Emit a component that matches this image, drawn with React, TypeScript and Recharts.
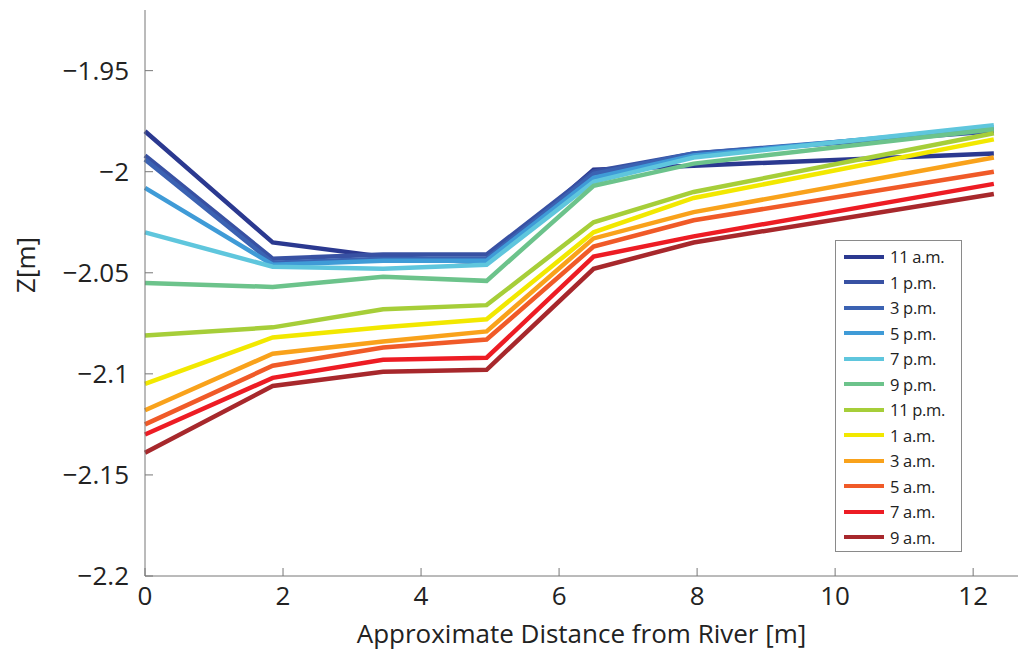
import { LineChart, Line, XAxis, YAxis } from 'recharts';

const distances = [0, 1.85, 3.45, 4.95, 6.5, 7.95, 12.3];

const times = ['11 a.m.', '1 p.m.', '3 p.m.', '5 p.m.', '7 p.m.', '9 p.m.', '11 p.m.', '1 a.m.', '3 a.m.', '5 a.m.', '7 a.m.', '9 a.m.'];

const colors = ['#2b3990', '#3851a3', '#3b62b2', '#3f9bd7', '#5fc6dd', '#6cc38b', '#a6ce39', '#f2e800', '#f9a21b', '#f05a28', '#ed1c24', '#a7282c'];

const z11am = [-1.980, -2.035, -2.042, -2.045, -1.999, -1.997, -1.991];
const z1pm = [-1.992, -2.043, -2.041, -2.041, -2.000, -1.991, -1.980];
const z3pm = [-1.994, -2.045, -2.043, -2.043, -2.001, -1.991, -1.979];
const z5pm = [-2.008, -2.046, -2.044, -2.044, -2.003, -1.992, -1.978];
const z7pm = [-2.030, -2.047, -2.048, -2.046, -2.005, -1.993, -1.977];
const z9pm = [-2.055, -2.057, -2.052, -2.054, -2.007, -1.996, -1.979];
const z11pm = [-2.081, -2.077, -2.068, -2.066, -2.025, -2.010, -1.981];
const z1am = [-2.105, -2.082, -2.077, -2.073, -2.030, -2.013, -1.984];
const z3am = [-2.118, -2.090, -2.084, -2.079, -2.033, -2.020, -1.993];
const z5am = [-2.125, -2.096, -2.087, -2.083, -2.037, -2.024, -2.000];
const z7am = [-2.130, -2.102, -2.093, -2.092, -2.042, -2.032, -2.006];
const z9am = [-2.139, -2.106, -2.099, -2.098, -2.048, -2.035, -2.011];

const series = [z11am, z1pm, z3pm, z5pm, z7pm, z9pm, z11pm, z1am, z3am, z5am, z7am, z9am];

const xTicks = [0, 2, 4, 6, 8, 10, 12];
const yTicks = [-2.2, -2.15, -2.1, -2.05, -2, -1.95];

const data = distances.map((d, i) => {
  const row: Record<string, number> = { d };
  times.forEach((t, k) => {
    row[t] = series[k][i];
  });
  return row;
});

const font = '"Open Sans", sans-serif';
const minus = (v: number) => String(v).replace('-', '\u2212');

// legend drawn as a plain overlay so it does not eat plot space
function TimeLegend() {
  return (
    <div
      style={{
        position: 'absolute',
        left: 835,
        top: 240,
        border: '1px solid #8a8a8a',
        background: '#fff',
        width: 127,
        height: 312,
        boxSizing: 'border-box',
        paddingTop: 3,
        fontFamily: font,
        fontSize: 16.5,
        letterSpacing: -0.3,
        color: '#222',
      }}
    >
      {times.map((t, i) => (
        <div key={t} style={{ display: 'flex', alignItems: 'center', height: 25.5 }}>
          <div style={{ width: 40, height: 4, background: colors[i], marginLeft: 8, marginRight: 6 }} />
          <span>{t}</span>
        </div>
      ))}
    </div>
  );
}

export default function App() {
  return (
    <div style={{ position: 'absolute', left: 0, top: 0, width: 1018, height: 658, background: '#fff' }}>
      <LineChart width={1018} height={658} data={data} margin={{ top: 10, right: 0, bottom: 0, left: 0 }}>
        <XAxis
          dataKey="d"
          type="number"
          domain={[0, 12.65]}
          ticks={xTicks}
          height={82}
          stroke="#777"
          tickSize={-8}
          tickMargin={19}
          tick={{ fill: '#222', fontSize: 26, fontFamily: font }}
          label={{ value: 'Approximate Distance from River [m]', position: 'insideBottom', offset: 15, fill: '#222', fontSize: 26, fontFamily: font }}
        />
        <YAxis
          type="number"
          domain={[-2.2, -1.92]}
          ticks={yTicks}
          width={145}
          stroke="#777"
          tickSize={-8}
          tickMargin={24}
          tickFormatter={minus}
          tick={{ fill: '#222', fontSize: 26, fontFamily: font }}
          label={{ value: 'Z[m]', angle: -90, position: 'insideLeft', offset: 26, fill: '#222', fontSize: 26, fontFamily: font }}
        />
        {times.map((t, i) => (
          <Line
            key={t}
            dataKey={t}
            stroke={colors[i]}
            strokeWidth={4.5}
            dot={false}
            isAnimationActive={false}
          />
        ))}
      </LineChart>
      <TimeLegend />
    </div>
  );
}
